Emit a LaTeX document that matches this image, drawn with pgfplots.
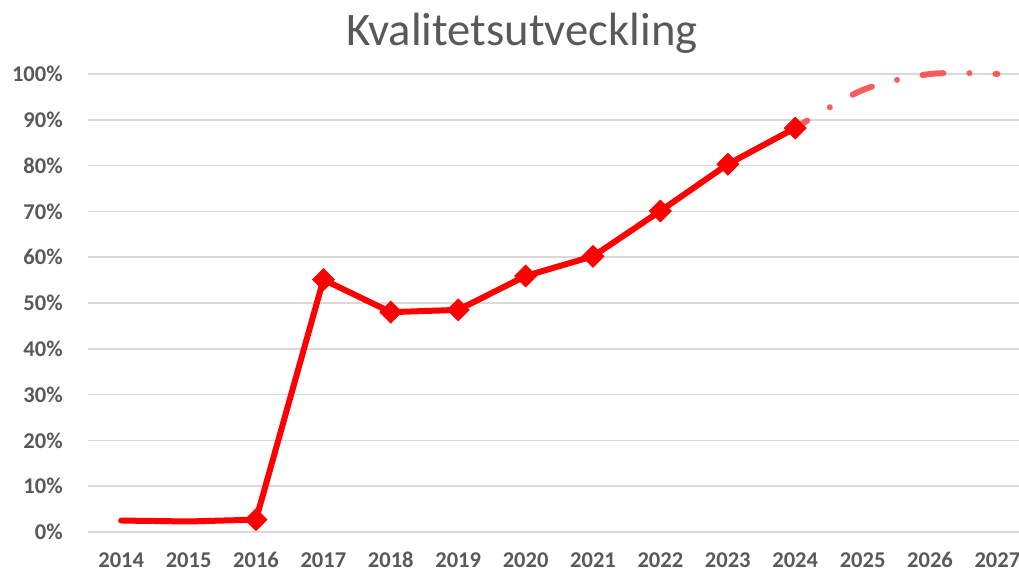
\documentclass[border=0pt]{standalone}
\usepackage{pgfplots}
\pgfplotsset{compat=1.18}
\usepackage{fontspec}
\setmainfont{Carlito}
\definecolor{txtgray}{HTML}{595959}
\definecolor{gridgray}{HTML}{D9D9D9}
\definecolor{trendred}{HTML}{FF4040}
\begin{document}
\begin{tikzpicture}
\useasboundingbox (0,0) rectangle (764.25pt,429pt);
\clip (0,0) rectangle (764.25pt,429pt);
\begin{axis}[
  at={(65.625pt,30pt)}, anchor=south west,
  scale only axis,
  width=707.7pt, height=343.5pt,
  xmin=-0.5, xmax=13.5,
  ymin=0, ymax=100,
  xtick={0,...,13},
  xticklabels={2014,2015,2016,2017,2018,2019,2020,2021,2022,2023,2024,2025,2026,2027},
  ytick={0,10,...,100},
  yticklabel={\pgfmathprintnumber{\tick}\%},
  /pgf/number format/assume math mode=true,
  axis line style={draw=none},
  major tick length=0pt,
  ymajorgrids,
  grid style={gridgray, line width=1.1pt},
  ticklabel style={font=\fontsize{16.9}{18}\selectfont\bfseries, text=txtgray, inner sep=0pt},
  xticklabel style={anchor=base, yshift=-26.8pt},
  yticklabel style={anchor=east, xshift=-18.4pt},
  clip=false,
]
% trend line
\addplot[trendred, opacity=0.85, line width=4.5pt, line cap=round, smooth, tension=0.5,
  dash pattern=on 15.75pt off 19.5pt on 0pt off 19.5pt, dash phase=5pt]
  coordinates {(10,88.2) (11,96.5) (12,100) (13,100)};
% actual line
\addplot[red, line width=4.5pt, line join=round, line cap=round]
  coordinates {(0,2.5) (1,2.3) (2,2.7) (3,55.1) (4,48.0) (5,48.5) (6,55.9) (7,60.2) (8,70.1) (9,80.3) (10,88.2)};
\addplot[only marks, mark=square*, mark size=5.8pt, red,
  mark options={rotate=45, line width=0.6pt, fill=red}]
  coordinates {(2,2.7) (3,55.1) (4,48.0) (5,48.5) (6,55.9) (7,60.2) (8,70.1) (9,80.3) (10,88.2)};
\end{axis}
\node[anchor=base, inner sep=0pt, text=txtgray, font=\fontsize{35}{40}\selectfont] at (391.5pt,394.5pt) {Kvalitetsutveckling};
\end{tikzpicture}
\end{document}
